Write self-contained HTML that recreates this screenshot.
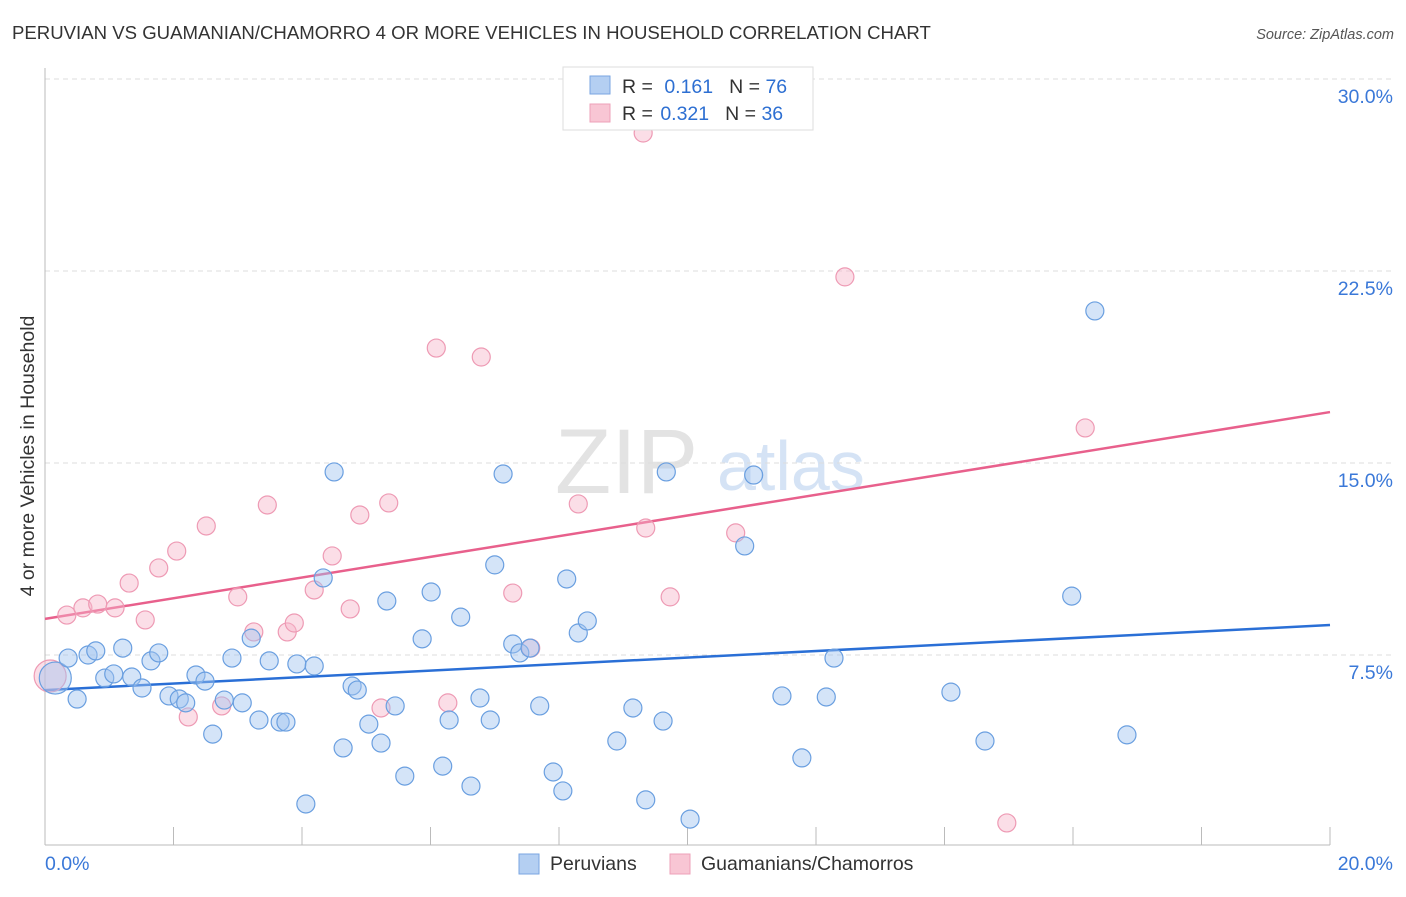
<!DOCTYPE html>
<html><head><meta charset="utf-8"><style>
body{margin:0;background:#fff;font-family:"Liberation Sans",sans-serif;}
svg text{font-family:"Liberation Sans",sans-serif;}
</style></head><body>
<svg id="chart" width="1406" height="892" xmlns="http://www.w3.org/2000/svg">
<text x="12" y="39" font-size="18.6" fill="#333">PERUVIAN VS GUAMANIAN/CHAMORRO 4 OR MORE VEHICLES IN HOUSEHOLD CORRELATION CHART</text>
<text x="1394" y="39" font-size="14.5" fill="#555" text-anchor="end" font-style="italic">Source: ZipAtlas.com</text>
<g>
<text x="555" y="493" font-family="Liberation Serif" font-size="92" fill="#e3e3e3">ZIP</text>
<text x="717" y="490" font-size="70" fill="#d5e3f5">atlas</text>
</g>
<g id="grid"></g>
<g id="axes"></g>
<g id="lines"></g>
<g id="points"></g>
<text transform="translate(34,456) rotate(-90)" font-size="19.5" fill="#333" text-anchor="middle">4 or more Vehicles in Household</text>
<g>
<rect x="563" y="67" width="250" height="63" fill="#fff" stroke="#ddd"/>
<rect x="590" y="76" width="20" height="18" fill="#b4cff2" stroke="#7aa6e2"/>
<rect x="590" y="104" width="20" height="18" fill="#f8c6d4" stroke="#eea0b8"/>
<text x="622" y="93" font-size="19.5" fill="#333">R = <tspan fill="#2d6fd2" dx="6">0.161</tspan><tspan fill="#333" dx="16">N = </tspan><tspan fill="#2d6fd2">76</tspan></text>
<text x="622" y="120" font-size="19.5" fill="#333">R = <tspan fill="#2d6fd2" dx="2">0.321</tspan><tspan fill="#333" dx="16">N = </tspan><tspan fill="#2d6fd2">36</tspan></text>
</g>
<g>
<rect x="519" y="854" width="20" height="20" fill="#b4cff2" stroke="#7aa6e2"/>
<text x="550" y="870" font-size="19.5" fill="#333">Peruvians</text>
<rect x="670" y="854" width="20" height="20" fill="#f8c6d4" stroke="#eea0b8"/>
<text x="701" y="870" font-size="19.5" fill="#333">Guamanians/Chamorros</text>
</g>
</svg>
<script>
const yTicks=[7.5,15,22.5,30];
const yTickLabels=["7.5%","15.0%","22.5%","30.0%"];
const xTickValues=[0,2,4,6,8,10,12,14,16,18,20];
const xEndLabels=["0.0%","20.0%"];
const blueX=[0.16,0.36,0.50,0.67,0.79,0.93,1.07,1.21,1.35,1.51,1.65,1.77,1.93,2.09,2.19,2.35,2.49,2.61,2.79,2.91,3.07,3.21,3.33,3.49,3.66,3.75,3.92,4.06,4.19,4.33,4.50,4.64,4.78,4.86,5.04,5.23,5.32,5.45,5.60,5.87,6.01,6.19,6.29,6.47,6.63,6.77,6.93,7.00,7.13,7.28,7.39,7.55,7.70,7.91,8.06,8.12,8.30,8.44,8.90,9.15,9.35,9.62,9.67,10.04,10.89,11.03,11.47,11.78,12.16,12.28,14.10,14.63,15.98,16.34,16.84];
const blueY=[6.60,7.38,5.78,7.50,7.66,6.60,6.76,7.77,6.64,6.21,7.27,7.58,5.90,5.78,5.63,6.72,6.48,4.41,5.74,7.38,5.63,8.16,4.96,7.27,4.88,4.88,7.15,1.68,7.07,10.51,14.65,3.87,6.29,6.13,4.80,4.06,9.61,5.51,2.77,8.13,9.96,3.16,4.96,8.98,2.38,5.82,4.96,11.02,14.57,7.93,7.58,7.77,5.51,2.93,2.19,10.47,8.36,8.83,4.14,5.43,1.84,4.92,14.65,1.09,11.76,14.53,5.90,3.48,5.86,7.38,6.05,4.14,9.80,20.94,4.38];
const pinkX=[0.08,0.34,0.59,0.82,1.09,1.31,1.56,1.77,2.05,2.23,2.51,2.75,3.00,3.25,3.46,3.77,3.88,4.19,4.47,4.75,4.90,5.23,5.35,6.09,6.27,6.79,7.28,7.56,8.30,9.31,9.35,9.73,10.75,12.45,14.97,16.19];
const pinkY=[6.68,9.06,9.34,9.49,9.34,10.31,8.87,10.90,11.56,5.08,12.54,5.51,9.77,8.40,13.36,8.40,8.75,10.04,11.37,9.30,12.97,5.43,13.44,19.49,5.63,19.14,9.92,7.77,13.40,27.89,12.46,9.77,12.27,22.27,0.94,16.37];
const blueTrend=[6.13,8.67];
const pinkTrend=[8.91,16.99];
const NS="http://www.w3.org/2000/svg";
const X=v=>45+v/20*1285;
const Y=v=>847-v/30*768;
function mk(tag,attrs,parent){const e=document.createElementNS(NS,tag);for(const k in attrs)e.setAttribute(k,attrs[k]);parent.appendChild(e);return e;}
const grid=document.getElementById('grid'),axes=document.getElementById('axes'),lines=document.getElementById('lines'),pts=document.getElementById('points');
yTicks.forEach((t,i)=>{
 const l=mk('line',{x1:45,x2:1395,y1:Y(t),y2:Y(t),stroke:'#ddd','stroke-dasharray':'5,4'},grid);
 
 
 const tx=mk('text',{x:1393,y:Y(t)+24,'font-size':19.5,fill:'#3a78d8','text-anchor':'end'},axes);
 tx.textContent=yTickLabels[i];
 
 
});
const yl=mk('line',{x1:45,x2:45,y1:68,y2:845,stroke:'#bbb'},axes);


const xl=mk('line',{x1:45,x2:1330,y1:845,y2:845,stroke:'#bbb'},axes);


xTickValues.forEach(v=>{
 const t=mk('line',{x1:X(v),x2:X(v),y1:827,y2:845,stroke:'#bbb'},axes);
 
 
});
const xa=mk('text',{x:45,y:870,'font-size':19.5,fill:'#3a78d8'},axes);xa.textContent=xEndLabels[0];


const xb=mk('text',{x:1393,y:870,'font-size':19.5,fill:'#3a78d8','text-anchor':'end'},axes);xb.textContent=xEndLabels[1];


function drawPts(xs,ys,fill,stroke,name){xs.forEach((x,i)=>{
 const r=(i===0)?16:9;
 const c=mk('circle',{cx:X(x),cy:Y(ys[i]),r:r,fill:fill,stroke:stroke,'stroke-width':1.2},pts);
 
 
});}
drawPts(pinkX,pinkY,'rgba(246,182,202,0.45)','#ee9ab4','guamanian-point');
drawPts(blueX,blueY,'rgba(160,196,240,0.45)','#6a9fe0','peruvian-point');
const bl=mk('line',{x1:X(0),x2:X(20),y1:Y(blueTrend[0]),y2:Y(blueTrend[1]),stroke:'#2a6fd6','stroke-width':2.5},lines);


const pl=mk('line',{x1:X(0),x2:X(20),y1:Y(pinkTrend[0]),y2:Y(pinkTrend[1]),stroke:'#e8608c','stroke-width':2.5},lines);


</script>
</body></html>
